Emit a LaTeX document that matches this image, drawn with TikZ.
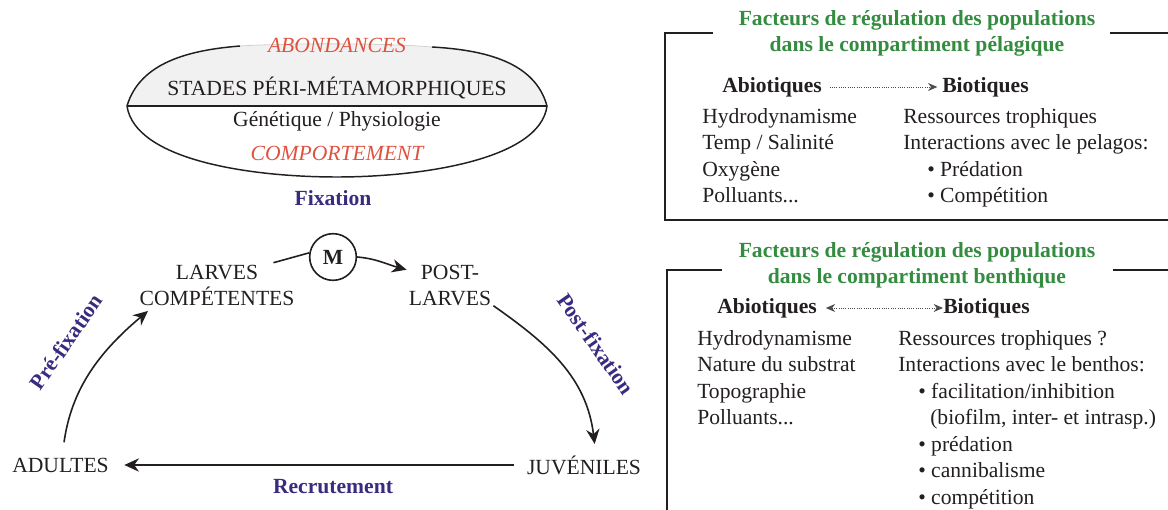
\documentclass[tikz,border=0pt]{standalone}
\usepackage{fontspec}
\setmainfont{Liberation Serif}
\usetikzlibrary{arrows.meta}
\definecolor{ink}{RGB}{35,31,32}
\definecolor{redtxt}{RGB}{222,82,64}
\definecolor{phasec}{RGB}{58,42,128}
\definecolor{greentxt}{RGB}{52,140,64}
\definecolor{ellfill}{RGB}{241,241,241}
\newcommand{\pbullet}{\textbullet\hspace{0.25em}}

\begin{document}
\begin{tikzpicture}
  [x=0.75pt,y=-0.75pt,
   every node/.style={font=\fontsize{16.2}{19.9}\selectfont,text=ink,inner sep=1.5pt},
   cyc/.style={draw=ink,line width=1.2pt,-{Stealth[length=11pt,width=10pt]}},
   phase/.style={font=\fontsize{16.2}{19.9}\selectfont\bfseries,text=phasec},
   ttl/.style={font=\fontsize{16.2}{19.9}\selectfont\bfseries,text=greentxt,align=center},
   hdr/.style={font=\fontsize{16.2}{19.9}\selectfont\bfseries,anchor=west},
   item/.style={anchor=base west},
   boxline/.style={draw=ink,line width=1.1pt},
   dotarrow/.style={draw=ink!80,densely dotted,line width=0.7pt}]
  \useasboundingbox (0,0) rectangle (1168,510);

  \fill[ellfill] (127,106) .. controls (140,62) and (190,50) .. (240,46)
    .. controls (290,43) and (385,43) .. (432,47)
    .. controls (485,50) and (535,62) .. (547,106) -- cycle;
  \draw[gray!35,line width=0.6pt] (240,46) .. controls (290,43) and (385,43) .. (432,47);
  \draw[ink,line width=1.1pt] (240,46) .. controls (190,50) and (140,62) .. (127,106)
    .. controls (135,160) and (250,177) .. (337,177)
    .. controls (420,177) and (540,160) .. (547,106)
    .. controls (535,62) and (485,50) .. (432,47);
  \draw[ink,line width=1.4pt] (127,106) -- (547,106);

  \node[text=redtxt,font=\fontsize{16.2}{19.9}\selectfont\itshape] (abon) at (337,45) {ABONDANCES};
  \node (stades) at (337,88) {STADES PÉRI-MÉTAMORPHIQUES};
  \node (genet) at (337,121) {Génétique / Physiologie};
  \node[text=redtxt,font=\fontsize{16.2}{19.9}\selectfont\itshape] (comport) at (337,153) {COMPORTEMENT};
  \node[phase] (fix) at (333,198) {Fixation};

  \node[align=center] (larves) at (217,285.5) {LARVES\\COMPÉTENTES};
  \node[align=center] (post) at (450,285.5) {POST-\\LARVES};
  \node[circle,draw=ink,line width=1.2pt,minimum size=35pt,inner sep=0pt,
        font=\fontsize{16.2}{19.9}\selectfont\bfseries] (m) at (333,257) {M};
  \node (adults) at (60.5,465) {ADULTES};
  \node (juv) at (584,465) {JUVÉNILES};

  \node[phase,rotate=55] (prefix) at (66,342) {Pré-fixation};
  \node[phase,rotate=-55] (postfix) at (596,344) {Post-fixation};
  \node[phase] (recru) at (333,487) {Recrutement};

  \draw[ink,line width=1.2pt] (larves.22) -- (m.170);
  \draw[cyc] (m.east) to[out=-5,in=165] (post.160);
  \draw[cyc] (post.-25) to[out=-35,in=97] ([xshift=8pt,yshift=7pt]juv.north);
  \draw[cyc,shorten <=8pt,shorten >=10pt] (juv.west) -- (adults.east);
  \draw[cyc,shorten <=10pt] (adults.80) to[out=82,in=220] ([xshift=8pt,yshift=-2pt]larves.south west);

  \draw[boxline] (713,33) -- (665,33) -- (665,220) -- (1168,220);
  \draw[boxline] (1110,33) -- (1168,33);
  \node[ttl] (ttlpel) at (917,33.5) {Facteurs de régulation des populations\\dans le compartiment pélagique};
  \node[hdr] (abpel) at (720,87) {Abiotiques};
  \node[hdr] (bipel) at (940,87) {Biotiques};
  \draw[dotarrow,shorten <=4pt,shorten >=2pt,-{Stealth[length=7pt,width=6pt]}] (abpel) -- (bipel);

  \foreach \txt [count=\i from 0] in {Hydrodynamisme,Temp / Salinité,Oxygène,{Polluants{...}}}
    \node[item] (pl\i) at (700,123+26.5*\i) {\txt};
  \foreach \xx/\txt [count=\i from 0] in {901/Ressources trophiques,901/Interactions avec le pelagos:,
      925/{\pbullet Prédation},925/{\pbullet Compétition}}
    \node[item] (pr\i) at (\xx,123+26.5*\i) {\txt};

  \draw[boxline] (722,270) -- (667,270) -- (667,510);
  \draw[boxline] (1113,270) -- (1168,270);
  \node[ttl] (ttlben) at (917,265.5) {Facteurs de régulation des populations\\dans le compartiment benthique};
  \node[hdr] (abben) at (715,308) {Abiotiques};
  \node[hdr,inner sep=0pt] (biben) at (943,308) {Biotiques};
  \draw[dotarrow,shorten <=5pt,{Stealth[length=7pt,width=6pt]}-{Stealth[length=7pt,width=6pt]}] (abben) -- (biben);

  \foreach \txt [count=\i from 0] in {Hydrodynamisme,Nature du substrat,Topographie,{Polluants{...}}}
    \node[item] (bl\i) at (695,345+26.5*\i) {\txt};
  \foreach \xx/\txt [count=\i from 0] in {896/Ressources trophiques ?,896/Interactions avec le benthos:,
      916/{\pbullet facilitation/inhibition},928/{(biofilm, inter- et intrasp.)},
      916/{\pbullet prédation},916/{\pbullet cannibalisme},916/{\pbullet compétition}}
    \node[item] (br\i) at (\xx,345+26.5*\i) {\txt};
\end{tikzpicture}
\end{document}
